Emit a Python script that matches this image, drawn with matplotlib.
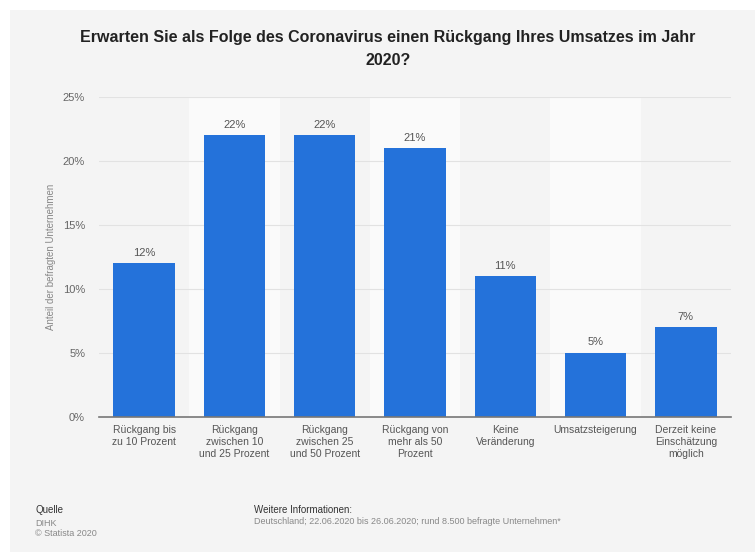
import matplotlib.pyplot as plt
from matplotlib.patches import Rectangle

plt.rcParams['font.family'] = ['Liberation Sans', 'DejaVu Sans']

categories = ["Rückgang bis\nzu 10 Prozent", "Rückgang\nzwischen 10\nund 25 Prozent",
              "Rückgang\nzwischen 25\nund 50 Prozent", "Rückgang von\nmehr als 50\nProzent",
              "Keine\nVeränderung", "Umsatzsteigerung", "Derzeit keine\nEinschätzung\nmöglich"]
values = [12, 22, 22, 21, 11, 5, 7]
yticks = [0, 5, 10, 15, 20, 25]

bg = '#f4f4f4'
fig = plt.figure(figsize=(7.55, 5.52), dpi=100)
fig.patch.set_facecolor('white')
fig.add_artist(Rectangle((10 / 755, 0), 1, 1 - 10 / 552, transform=fig.transFigure,
                         facecolor=bg, edgecolor='none', zorder=-10))

ax = fig.add_axes([99 / 755, 1 - 417 / 552, 632 / 755, (417 - 97) / 552])
ax.patch.set_alpha(0)

x = list(range(len(categories)))
for i in x:
    if i % 2 == 1:
        ax.axvspan(i - 0.5, i + 0.5, color='#fafafa', zorder=0, lw=0)

ax.bar(x, values, width=0.68, color='#2472da', zorder=3)
for i, v in zip(x, values):
    ax.annotate(f"{v}%", (i, v), xytext=(0, 4), textcoords='offset points',
                ha='center', va='bottom', fontsize=8, color='#555555')

ax.set_xlim(-0.5, len(categories) - 0.5)
ax.set_ylim(0, 25)
ax.set_yticks(yticks)
ax.set_yticklabels([f"{t}%" for t in yticks], fontsize=8, color='#666666')
ax.set_xticks(x)
ax.set_xticklabels(categories, fontsize=7.5, color='#555555', linespacing=1.2)
ax.tick_params(axis='both', length=0)
ax.tick_params(axis='y', pad=10)
ax.tick_params(axis='x', pad=6)
ax.grid(axis='y', color='#e2e2e2', lw=0.8, zorder=1)
for s in ['top', 'right', 'left']:
    ax.spines[s].set_visible(False)
ax.spines['bottom'].set_color('#777777')
ax.spines['bottom'].set_linewidth(1.2)
ax.spines['bottom'].set_zorder(4)
ax.set_ylabel("Anteil der befragten Unternehmen", fontsize=7, color='#888888', labelpad=5)

fig.text(388 / 755, 1 - 49 / 552, "Erwarten Sie als Folge des Coronavirus einen Rückgang Ihres Umsatzes im Jahr\n2020?",
         ha='center', va='center', fontsize=11.5, fontweight='bold', color='#222222', linespacing=1.6)

fig.text(35 / 755, 1 - 510 / 552, "Quelle", fontsize=7, color='#333333', va='center')
fig.text(35 / 755, 1 - 523 / 552, "DIHK", fontsize=6.5, color='#888888', va='center')
fig.text(35 / 755, 1 - 534 / 552, "© Statista 2020", fontsize=6.5, color='#888888', va='center')
fig.text(254 / 755, 1 - 510 / 552, "Weitere Informationen:", fontsize=7, color='#333333', va='center')
fig.text(254 / 755, 1 - 522 / 552, "Deutschland; 22.06.2020 bis 26.06.2020; rund 8.500 befragte Unternehmen*",
         fontsize=6.5, color='#888888', va='center')

fig.savefig('out.png', dpi=100, facecolor=fig.get_facecolor())
